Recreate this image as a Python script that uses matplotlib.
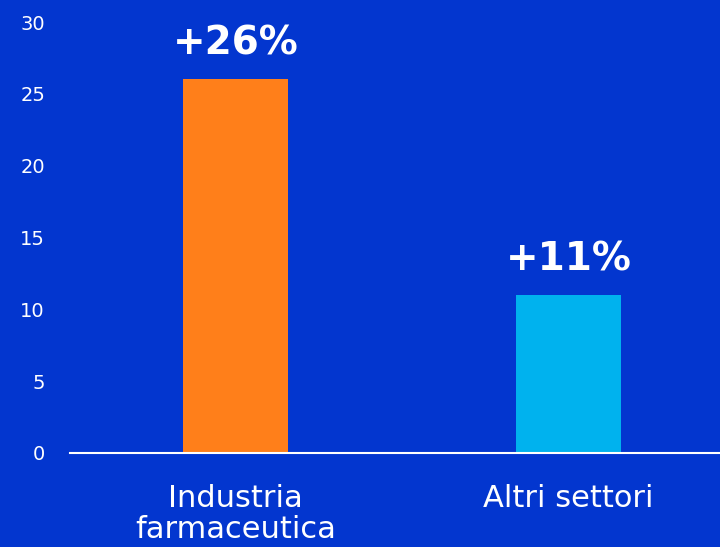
import matplotlib.pyplot as plt

categories = ["Industria\nfarmaceutica", "Altri settori"]
values = [26, 11]
labels = ["+26%", "+11%"]
colors = ["#FF7F1A", "#00B2EE"]
bg = "#0336CF"

plt.rcParams['font.family'] = ['DejaVu Sans']

fig = plt.figure(figsize=(7.2, 5.47), dpi=100)
fig.patch.set_facecolor(bg)
ax = fig.add_axes([70/720, 94/547, 650/720, 431/547])
ax.set_facecolor(bg)

x = list(range(len(categories)))
bars = ax.bar(x, values, width=0.315, color=colors, zorder=2)

for b, lab in zip(bars, labels):
    ax.annotate(lab, (b.get_x() + b.get_width() / 2, b.get_height()),
                xytext=(0, 12), textcoords="offset points",
                ha="center", va="bottom", color="white",
                fontsize=28, fontweight="bold")

ax.set_xlim(-0.497, 1.455)
ax.set_ylim(0, 30)
ax.set_yticks([0, 5, 10, 15, 20, 25, 30])
ax.set_xticks(x)
ax.set_xticklabels(categories, fontsize=22, color="white", linespacing=1.1)
ax.tick_params(axis="y", colors="white", labelsize=14, length=0, pad=18)
ax.tick_params(axis="x", length=0, pad=22)

for s in ["top", "right", "left"]:
    ax.spines[s].set_visible(False)
ax.spines["bottom"].set_color("white")
ax.spines["bottom"].set_linewidth(1.5)

fig.savefig("out.png", dpi=100, facecolor=bg)
